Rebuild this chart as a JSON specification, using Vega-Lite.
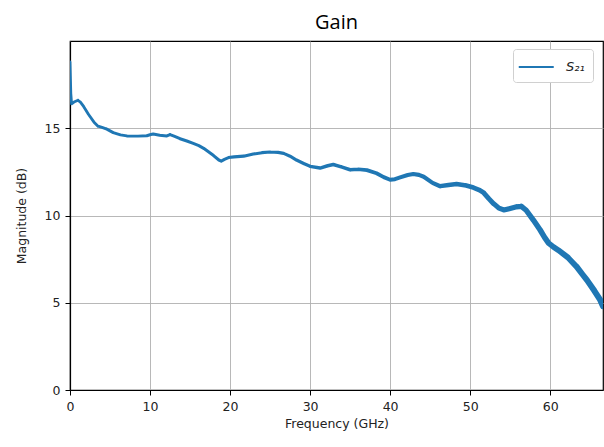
{
  "$schema": "https://vega.github.io/schema/vega-lite/v6.json",
  "width": 533,
  "height": 349,
  "autosize": {"type": "none"},
  "padding": {"left": 70, "top": 41, "right": 1, "bottom": 57},
  "background": "white",
  "title": {"text": "Gain", "font": "Open Sans", "fontSize": 20, "fontWeight": "normal", "color": "#000", "offset": 8, "anchor": "middle"},
  "config": {
    "view": {"stroke": "#000", "strokeWidth": 1.2},
    "axis": {
      "labelFont": "DejaVu Sans", "labelFontSize": 12.5, "labelColor": "#222", "labelFlush": false,
      "titleFont": "DejaVu Sans", "titleFontSize": 12.5, "titleFontWeight": "normal", "titleColor": "#222",
      "gridColor": "#b0b0b0", "gridWidth": 1, "gridOpacity": 0.9,
      "domainColor": "#000", "domainWidth": 1.2,
      "tickColor": "#000", "tickSize": 5, "tickWidth": 1
    }
  },
  "data": {"values": [
    {"f": 0, "g": 18.8}, {"f": 0.1, "g": 17.0}, {"f": 0.2, "g": 16.4}, {"f": 0.5, "g": 16.5}, {"f": 1.0, "g": 16.6}, {"f": 1.3, "g": 16.5}, {"f": 1.7, "g": 16.25},
    {"f": 2.3, "g": 15.8}, {"f": 3.0, "g": 15.35}, {"f": 3.5, "g": 15.12}, {"f": 4.0, "g": 15.05}, {"f": 4.6, "g": 14.95}, {"f": 5.4, "g": 14.75}, {"f": 6.3, "g": 14.62},
    {"f": 7.1, "g": 14.56}, {"f": 8.5, "g": 14.55}, {"f": 9.6, "g": 14.57}, {"f": 10.1, "g": 14.64}, {"f": 10.4, "g": 14.67}, {"f": 11.2, "g": 14.6}, {"f": 12.1, "g": 14.56},
    {"f": 12.5, "g": 14.64}, {"f": 13.0, "g": 14.55}, {"f": 13.75, "g": 14.4}, {"f": 14.6, "g": 14.27}, {"f": 15.4, "g": 14.13}, {"f": 16.1, "g": 14.0}, {"f": 16.7, "g": 13.85}, {"f": 17.9, "g": 13.45}, {"f": 18.6, "g": 13.18}, {"f": 18.9, "g": 13.12},
    {"f": 19.3, "g": 13.22}, {"f": 19.8, "g": 13.32}, {"f": 20.5, "g": 13.36}, {"f": 21.7, "g": 13.4}, {"f": 22.9, "g": 13.52}, {"f": 24, "g": 13.6}, {"f": 25, "g": 13.64},
    {"f": 26.0, "g": 13.62}, {"f": 26.7, "g": 13.56}, {"f": 27.5, "g": 13.4}, {"f": 28.3, "g": 13.18}, {"f": 29.2, "g": 12.98}, {"f": 30, "g": 12.82}, {"f": 31.25, "g": 12.72}, {"f": 32.2, "g": 12.85}, {"f": 32.9, "g": 12.92}, {"f": 34, "g": 12.77},
    {"f": 35, "g": 12.62}, {"f": 36, "g": 12.65}, {"f": 37.1, "g": 12.6}, {"f": 38.3, "g": 12.42}, {"f": 39.2, "g": 12.2}, {"f": 40, "g": 12.05}, {"f": 40.6, "g": 12.08}, {"f": 41.25, "g": 12.18},
    {"f": 42.2, "g": 12.32}, {"f": 42.9, "g": 12.38}, {"f": 43.6, "g": 12.33}, {"f": 44.2, "g": 12.22}, {"f": 45.3, "g": 11.87}, {"f": 46.25, "g": 11.68}, {"f": 47.3, "g": 11.75}, {"f": 48.3, "g": 11.8},
    {"f": 49.5, "g": 11.72}, {"f": 50.4, "g": 11.6}, {"f": 51.2, "g": 11.45}, {"f": 51.7, "g": 11.3}, {"f": 52.3, "g": 10.98}, {"f": 52.9, "g": 10.69}, {"f": 53.6, "g": 10.42}, {"f": 54.2, "g": 10.32}, {"f": 55, "g": 10.4},
    {"f": 55.8, "g": 10.5}, {"f": 56.4, "g": 10.52}, {"f": 57.0, "g": 10.3}, {"f": 57.9, "g": 9.74}, {"f": 58.75, "g": 9.17}, {"f": 59.3, "g": 8.75}, {"f": 59.8, "g": 8.42}, {"f": 60.4, "g": 8.2}, {"f": 61, "g": 8.02},
    {"f": 62.2, "g": 7.6}, {"f": 63.3, "g": 7.07}, {"f": 64.0, "g": 6.65}, {"f": 64.6, "g": 6.3}, {"f": 65.5, "g": 5.7}, {"f": 66.25, "g": 5.16}, {"f": 66.6, "g": 4.8}
  ]},
  "mark": {"type": "trail", "clip": true},
  "encoding": {
    "x": {"field": "f", "type": "quantitative", "title": "Frequency (GHz)",
      "scale": {"domain": [0, 66.6], "nice": false, "zero": false},
      "axis": {"values": [0, 10, 20, 30, 40, 50, 60], "labelPadding": 5, "titlePadding": 5}},
    "y": {"field": "g", "type": "quantitative", "title": "Magnitude (dB)",
      "scale": {"domain": [0, 20], "nice": false},
      "axis": {"values": [0, 5, 10, 15], "labelPadding": 5, "titlePadding": 16}},
    "size": {"field": "f", "type": "quantitative", "legend": null,
      "scale": {"type": "linear", "domain": [0, 28, 45, 58, 66.6], "range": [2.8, 3.2, 4.2, 5.5, 6], "zero": false}},
    "color": {"datum": "S₂₁", "type": "nominal",
      "scale": {"range": ["#1f77b4"]},
      "legend": {"title": null, "orient": "none", "legendX": 443, "legendY": 8,
        "symbolType": "M-1.4,0H2.6", "symbolSize": 306, "symbolStrokeWidth": 2, "symbolStrokeColor": "#1f77b4",
        "labelFont": "DejaVu Sans", "labelFontStyle": "italic", "labelFontSize": 13, "labelColor": "#222",
        "padding": 8, "strokeColor": "#d0d0d0", "fillColor": "white", "cornerRadius": 3, "labelOffset": 25}}
  }
}
